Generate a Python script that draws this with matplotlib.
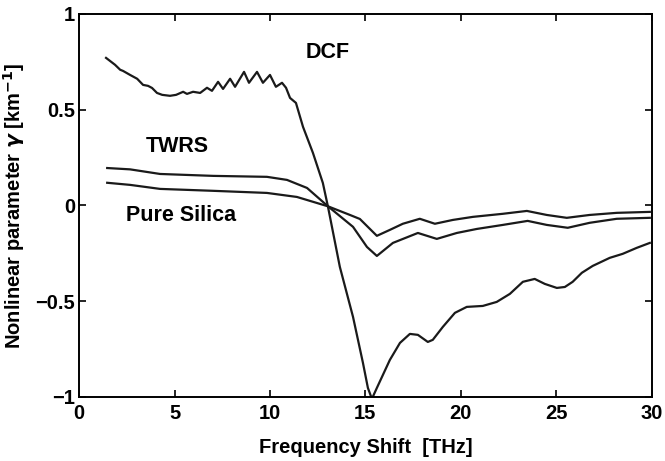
import numpy as np
import matplotlib
matplotlib.use("Agg")
import matplotlib.pyplot as plt

# DCF curve
dcf_x = [1.41, 1.88, 2.15, 2.30, 2.67, 3.04, 3.35, 3.61, 3.82, 4.08, 4.35, 4.76,
         5.08, 5.45, 5.65, 5.97, 6.34, 6.70, 6.96, 7.28, 7.54, 7.91, 8.17, 8.64,
         8.90, 9.32, 9.63, 10.0, 10.31, 10.63, 10.84, 11.05, 11.36, 11.73, 12.25,
         12.77, 13.04, 13.66, 14.35, 14.87, 15.13, 15.34, 15.60, 16.28, 16.81,
         17.33, 17.75, 18.27, 18.53, 19.06, 19.69, 20.31, 21.15, 21.88, 22.57,
         23.25, 23.87, 24.40, 25.03, 25.45, 25.86, 26.34, 26.91, 27.80, 28.48,
         29.21, 29.90]
dcf_y = [0.770, 0.734, 0.708, 0.702, 0.681, 0.661, 0.629, 0.624, 0.613, 0.587,
         0.577, 0.572, 0.577, 0.593, 0.582, 0.593, 0.587, 0.614, 0.598, 0.645,
         0.608, 0.661, 0.619, 0.697, 0.640, 0.697, 0.640, 0.681, 0.619, 0.640,
         0.614, 0.561, 0.535, 0.410, 0.274, 0.117, -0.008, -0.321, -0.582,
         -0.822, -0.953, -1.01, -0.953, -0.807, -0.718, -0.671, -0.676, -0.713,
         -0.702, -0.634, -0.561, -0.530, -0.525, -0.504, -0.462, -0.399, -0.384,
         -0.410, -0.431, -0.426, -0.399, -0.352, -0.316, -0.274, -0.253, -0.222,
         -0.196]

# TWRS fibre
twrs_x = [1.47, 2.67, 4.24, 7.02, 9.84, 10.89, 11.94, 13.04, 14.35, 15.08, 15.60,
          16.44, 17.75, 18.74, 19.79, 20.84, 22.2, 23.5, 24.5, 25.6, 26.75, 28.17,
          29.9]
twrs_y = [0.195, 0.188, 0.164, 0.154, 0.149, 0.133, 0.091, -0.005, -0.112, -0.217,
          -0.264, -0.196, -0.144, -0.175, -0.144, -0.123, -0.102, -0.081, -0.102,
          -0.117, -0.091, -0.070, -0.065]

# Pure silica fibre
silica_x = [1.47, 2.67, 4.24, 7.02, 9.84, 11.41, 13.04, 14.19, 14.71, 15.60, 16.28,
            16.96, 17.85, 18.64, 19.58, 20.63, 22.2, 23.46, 24.5, 25.55, 26.75,
            28.17, 29.9]
silica_y = [0.118, 0.107, 0.086, 0.076, 0.065, 0.044, -0.005, -0.050, -0.071,
            -0.159, -0.128, -0.096, -0.070, -0.096, -0.076, -0.060, -0.044, -0.029,
            -0.050, -0.065, -0.050, -0.039, -0.034]

plt.rcParams['font.family'] = ['Liberation Sans', 'DejaVu Sans']
plt.rcParams['font.weight'] = 'bold'

fig = plt.figure(figsize=(6.65, 4.61), dpi=100)
ax = fig.add_axes([0.119, 0.139, 0.861, 0.831])

for xs, ys in [(dcf_x, dcf_y), (twrs_x, twrs_y), (silica_x, silica_y)]:
    ax.plot(xs, ys, color='#1a1a1a', lw=1.6)

ax.set_xlim(0, 30)
ax.set_ylim(-1, 1)
ax.set_xticks([0, 5, 10, 15, 20, 25, 30])
ax.set_yticks([-1, -0.5, 0, 0.5, 1])
ax.set_yticklabels(['\u22121', '\u22120.5', '0', '0.5', '1'])
ax.tick_params(direction='in', top=True, right=True, length=5, width=1.2,
               labelsize=14.5)
ax.tick_params(axis='y', pad=3)
ax.tick_params(axis='x', pad=5)
for lab in ax.get_xticklabels() + ax.get_yticklabels():
    lab.set_fontweight('bold')
for sp in ax.spines.values():
    sp.set_linewidth(1.4)

ax.set_xlabel('Frequency Shift  [THz]', fontsize=14.5, fontweight='bold', labelpad=11)
ax.set_ylabel(r'Nonlinear parameter $\gamma$ [km$^{\mathbf{-1}}$]', fontsize=14.5,
              fontweight='bold', labelpad=6)

ax.text(13.01, 0.80, 'DCF', fontsize=15.5, fontweight='bold', ha='center', va='center')
ax.text(5.16, 0.305, 'TWRS', fontsize=15.5, fontweight='bold', ha='center', va='center')
ax.text(5.34, -0.055, 'Pure Silica', fontsize=15.5, fontweight='bold', ha='center', va='center')

fig.savefig('out.png', dpi=100)
